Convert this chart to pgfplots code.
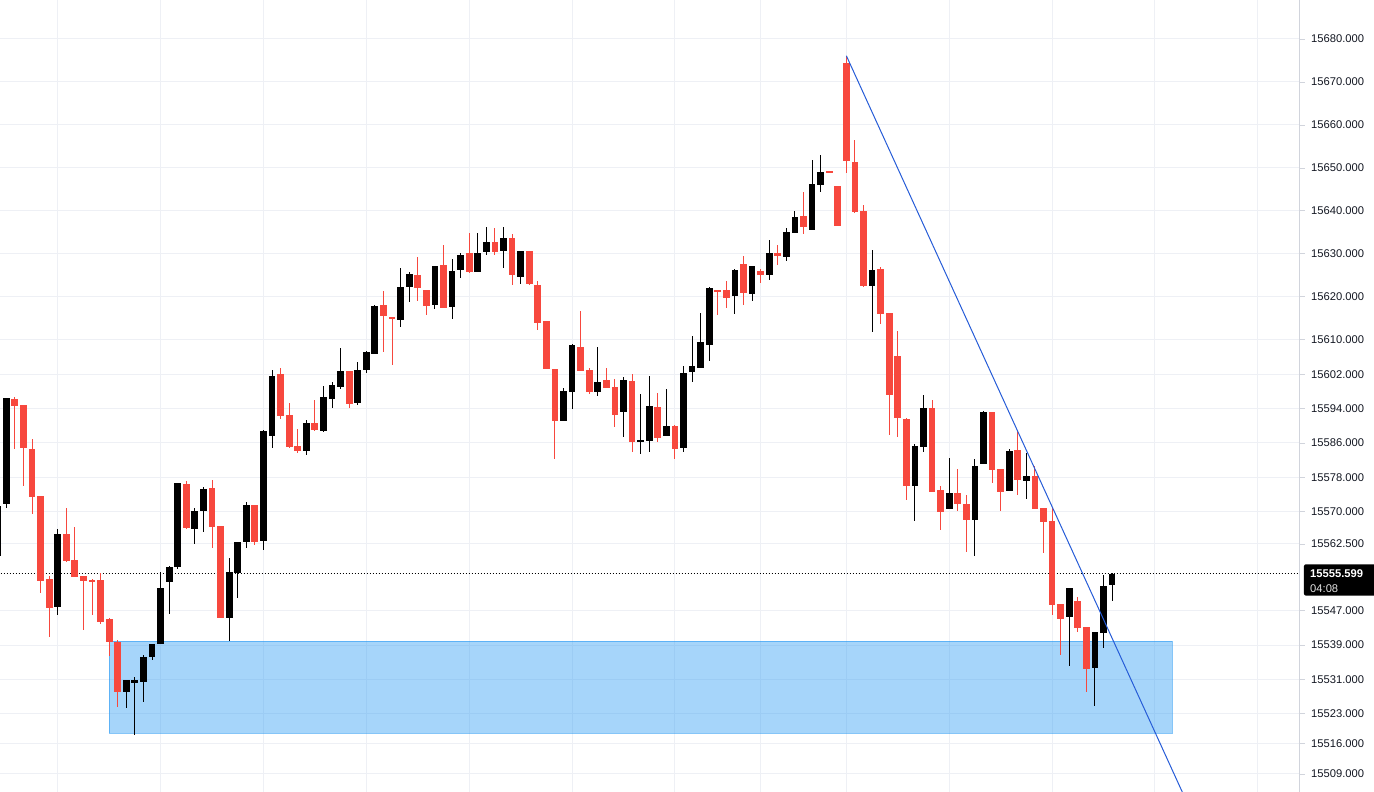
\documentclass[border=0pt]{standalone}
\usepackage{pgfplots}
\pgfplotsset{compat=1.18}
\usepackage{pgfplotstable}
\usepackage{fontspec}
\setmainfont{Liberation Sans}
\definecolor{bearred}{RGB}{247,72,62}
\definecolor{bullblack}{RGB}{0,0,0}
\definecolor{gridc}{RGB}{238,240,245}
\definecolor{zoneblue}{RGB}{33,150,243}
\definecolor{trend}{RGB}{38,92,215}
\definecolor{labc}{RGB}{19,23,34}
\definecolor{sepc}{RGB}{209,212,220}

% columns: index open high low close
\pgfplotstableread{
i o h l c
0 15559.9 15571.6 15559.9 15571.6
1 15571.8 15596.5 15570.9 15596.5
7 15547.9 15566.2 15546.1 15564.8
15 15528.1 15530.9 15524.6 15530.9
16 15530.2 15531.6 15518.1 15531.1
17 15530.6 15536.9 15526.0 15536.4
18 15536.3 15539.2 15535.5 15539.2
19 15539.3 15556.2 15539.3 15552.3
20 15553.7 15557.4 15546.2 15557.4
21 15557.2 15576.7 15556.7 15576.7
23 15566.0 15571.1 15562.6 15570.2
24 15570.3 15575.8 15565.3 15575.5
27 15545.4 15559.5 15540.0 15556.2
28 15555.8 15563.0 15550.0 15563.0
29 15563.0 15572.3 15561.6 15571.6
31 15563.3 15589.0 15561.2 15589.0
32 15587.7 15603.2 15585.1 15601.8
36 15584.2 15591.4 15583.3 15590.7
38 15589.0 15599.5 15588.8 15596.9
39 15596.2 15600.2 15594.1 15599.5
40 15599.0 15608.1 15598.6 15602.8
42 15595.5 15604.9 15594.8 15603.2
43 15603.0 15607.5 15602.3 15607.2
44 15606.9 15618.1 15606.9 15617.9
47 15614.6 15626.7 15613.1 15622.3
48 15622.3 15625.8 15619.0 15625.3
51 15618.1 15627.2 15617.2 15627.2
53 15617.6 15628.8 15614.9 15626.0
54 15626.3 15630.4 15624.4 15630.0
56 15625.8 15634.9 15625.8 15630.4
57 15630.4 15636.3 15629.7 15632.8
59 15630.7 15636.3 15626.7 15633.9
61 15624.6 15630.7 15623.2 15630.7
66 15591.2 15598.8 15591.2 15598.3
67 15597.9 15609.0 15594.0 15609.0
70 15597.9 15608.3 15596.9 15600.4
73 15593.3 15601.4 15587.5 15600.7
75 15586.3 15597.6 15583.7 15586.9
76 15586.5 15601.6 15584.0 15594.6
78 15587.7 15598.8 15587.7 15590.0
80 15584.9 15603.9 15584.0 15602.5
81 15602.6 15611.1 15600.3 15603.9
82 15603.5 15616.3 15603.5 15609.7
83 15608.9 15622.3 15605.2 15622.1
86 15620.3 15626.5 15615.9 15626.3
88 15620.7 15627.2 15619.1 15627.2
90 15625.2 15633.2 15623.9 15630.2
92 15629.4 15636.0 15628.4 15635.1
93 15634.9 15640.0 15634.9 15638.8
95 15635.6 15651.9 15635.6 15646.3
96 15646.1 15653.0 15644.5 15649.1
102 15622.6 15630.9 15611.9 15626.3
107 15576.1 15585.8 15567.9 15585.3
108 15585.1 15597.2 15584.0 15594.1
111 15570.7 15582.7 15570.7 15574.6
114 15568.2 15582.3 15559.7 15580.7
115 15581.2 15593.7 15581.2 15593.2
118 15574.9 15584.6 15574.9 15584.4
120 15577.2 15583.7 15573.0 15578.3
125 15545.6 15552.3 15534.2 15552.3
128 15533.7 15542.1 15524.9 15542.1
129 15541.9 15555.4 15538.4 15552.8
130 15553.0 15555.8 15549.3 15555.6
}\bull

\pgfplotstableread{
i o h l c
2 15596.2 15596.8 15584.6 15594.7
3 15594.8 15594.8 15576.0 15584.9
4 15584.8 15586.9 15569.6 15573.5
5 15573.7 15573.7 15551.2 15554.0
6 15554.4 15555.0 15540.9 15547.7
8 15565.0 15570.9 15558.4 15558.6
9 15558.8 15566.5 15554.9 15554.9
10 15555.1 15555.1 15542.6 15554.0
11 15554.1 15554.6 15546.1 15553.9
12 15554.1 15555.7 15544.0 15544.4
13 15545.3 15545.3 15536.4 15539.8
14 15539.9 15540.2 15524.6 15528.1
22 15576.5 15577.2 15566.0 15566.3
25 15575.5 15577.6 15561.6 15566.5
26 15566.9 15566.9 15545.4 15545.4
30 15571.6 15571.6 15562.3 15563.0
33 15602.3 15603.5 15591.7 15592.4
34 15592.5 15595.3 15584.9 15585.1
35 15585.5 15589.3 15583.7 15584.2
37 15590.7 15596.2 15589.0 15589.0
41 15602.8 15602.8 15594.1 15595.3
45 15618.1 15621.4 15607.2 15615.6
46 15615.4 15615.5 15604.2 15614.8
49 15625.1 15629.3 15619.0 15622.1
50 15621.8 15621.8 15615.8 15618.1
52 15627.4 15632.1 15617.6 15617.6
55 15630.2 15635.1 15625.8 15625.8
58 15633.0 15636.0 15629.7 15630.7
60 15633.9 15634.6 15622.8 15625.1
62 15630.7 15630.7 15622.8 15623.0
63 15623.0 15623.9 15612.5 15614.1
64 15614.4 15614.4 15603.2 15603.2
65 15603.2 15603.2 15582.3 15591.2
68 15608.3 15616.9 15602.8 15602.8
69 15603.2 15603.5 15597.5 15597.9
71 15600.7 15603.5 15598.9 15598.9
72 15599.0 15601.0 15589.8 15592.4
74 15600.4 15602.1 15584.1 15586.3
77 15594.4 15597.6 15586.3 15587.3
79 15590.2 15590.2 15582.3 15584.7
84 15621.6 15621.6 15615.9 15621.1
85 15621.6 15623.9 15617.5 15619.8
87 15627.7 15629.5 15618.2 15621.0
89 15626.0 15626.5 15623.3 15625.2
91 15630.4 15632.1 15627.4 15629.6
94 15638.8 15644.4 15634.7 15636.3
97 15649.3 15649.3 15649.0 15649.0
98 15646.0 15646.0 15636.6 15636.6
99 15674.5 15676.1 15648.9 15651.5
100 15651.4 15656.5 15639.5 15639.8
101 15640.0 15641.4 15622.4 15622.6
103 15626.5 15627.0 15613.8 15615.9
104 15616.3 15616.3 15587.9 15597.2
105 15606.5 15612.1 15587.5 15591.9
106 15591.8 15591.8 15572.8 15576.1
109 15594.4 15596.2 15574.7 15574.7
110 15575.1 15576.0 15565.8 15570.0
112 15574.4 15580.2 15570.3 15571.9
113 15572.0 15573.9 15560.6 15568.2
116 15593.2 15593.2 15576.8 15579.8
117 15580.0 15580.0 15570.3 15574.7
119 15584.4 15588.8 15574.0 15577.5
121 15578.3 15580.7 15570.7 15570.7
122 15570.9 15570.9 15560.5 15567.7
123 15567.9 15571.2 15546.1 15548.4
124 15548.6 15548.6 15536.7 15545.1
126 15549.5 15550.2 15542.1 15543.0
127 15543.3 15543.3 15528.1 15533.5
}\bear

\pgfplotsset{
  wick/.style={draw=none, no markers, forget plot,
    error bars/.cd, y dir=both, y explicit, error mark=none,
    error bar style={draw=#1, line width=1pt}},
  body/.style={draw=none, no markers, forget plot,
    error bars/.cd, y dir=both, y explicit, error mark=none,
    error bar style={draw=#1, line width=6.8pt}},
}

\begin{document}
\begin{tikzpicture}
\useasboundingbox (0,0) rectangle (1374pt,792pt);
\begin{axis}[
  at={(0,0)}, anchor=south west,
  scale only axis, width=1300pt, height=792pt,
  xmin=0.265, xmax=151.92,
  ymin=15504.80, ymax=15689.07,
  axis line style={draw=none},
  xtick={7,19,31,43,55,67,79,89,99,111,123,135,147},
  xticklabels={},
  xtick pos=bottom,
  x tick style={draw=none},
  ytick={15680,15670,15660,15650,15640,15630,15620,15610,15602,15594,15586,15578,15570,15562.5,15547,15539,15531,15523,15516,15509},
  yticklabels={15680.000,15670.000,15660.000,15650.000,15640.000,15630.000,15620.000,15610.000,15602.000,15594.000,15586.000,15578.000,15570.000,15562.500,15547.000,15539.000,15531.000,15523.000,15516.000,15509.000},
  ytick pos=right, yticklabel pos=right,
  tick align=outside, major tick length=5pt,
  y tick style={draw=sepc, line width=0.8pt},
  grid=major, major grid style={draw=gridc, line width=1pt},
  yticklabel style={font=\fontsize{11.2}{13}\selectfont, text=labc, anchor=west, inner sep=0pt, xshift=6pt},
]
% demand zone
\addplot[fill=zoneblue, fill opacity=0.4, draw=zoneblue, draw opacity=0.55, line width=1pt, forget plot]
  coordinates {(13.02,15539.87) (137.02,15539.87) (137.02,15518.46) (13.02,15518.46)} -- cycle;
% current price dotted line
\addplot[black, line width=0.9pt, dash pattern=on 0.9pt off 2.1pt, forget plot]
  coordinates {(0,15555.599) (152,15555.599)};
% wicks
\addplot[wick=bullblack] table[x=i, y expr={(\thisrow{h}+\thisrow{l})/2}, y error expr={(\thisrow{h}-\thisrow{l})/2}] {\bull};
\addplot[wick=bearred] table[x=i, y expr={(\thisrow{h}+\thisrow{l})/2}, y error expr={(\thisrow{h}-\thisrow{l})/2}] {\bear};
% bodies
\addplot[body=bullblack] table[x=i, y expr={(\thisrow{o}+\thisrow{c})/2}, y error expr={max(abs(\thisrow{o}-\thisrow{c})/2,0.13)}] {\bull};
\addplot[body=bearred] table[x=i, y expr={(\thisrow{o}+\thisrow{c})/2}, y error expr={max(abs(\thisrow{o}-\thisrow{c})/2,0.13)}] {\bear};
% trend line
\addplot[trend, line width=1pt, forget plot] coordinates {(99,15676.1) (138.12,15505.1) (141,15492.5)};
\coordinate (cp) at (axis cs:151.92,15555.599);
\end{axis}
\draw[sepc, line width=1pt] (current axis.south east) -- (current axis.north east);
\fill[black, rounded corners=2pt] ([xshift=4pt,yshift=9.4pt]cp) rectangle ([xshift=76pt,yshift=-22pt]cp);
\node[anchor=west, inner sep=0pt, text=white, font=\fontsize{11.2}{13}\selectfont\bfseries] at ([xshift=10pt,yshift=0.2pt]cp) {15555.599};
\node[anchor=west, inner sep=0pt, text=white!88!black, font=\fontsize{11.2}{13}\selectfont] at ([xshift=10pt,yshift=-14.5pt]cp) {04:08};
\end{tikzpicture}
\end{document}
